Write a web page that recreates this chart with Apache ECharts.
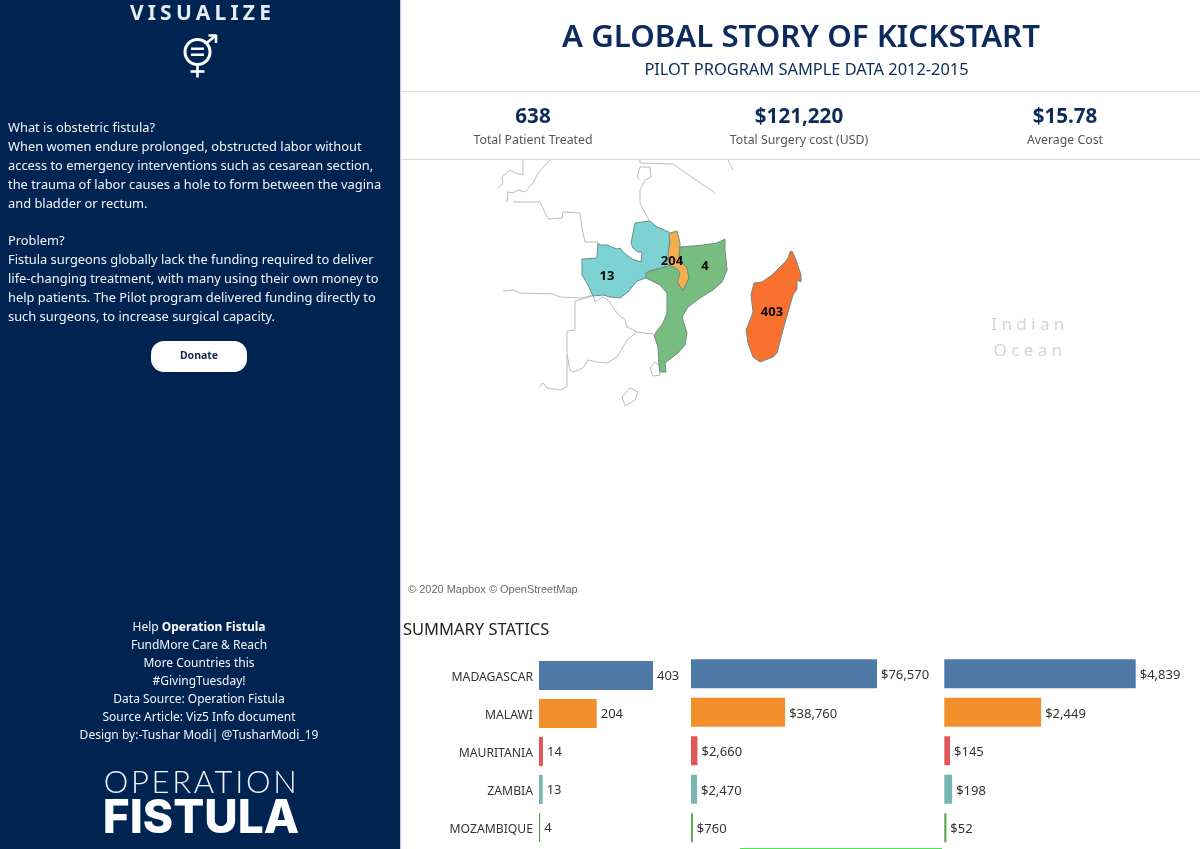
<!DOCTYPE html>
<html><head><meta charset="utf-8">
<script src="https://cdn.jsdelivr.net/npm/echarts@6/dist/echarts.min.js"></script>
<style>
html,body{margin:0;padding:0;background:#fff;overflow:hidden}
#wrap{position:relative;width:1200px;height:849px}
#chart{position:absolute;left:0;top:0;width:1200px;height:849px}
.sp{position:absolute;white-space:nowrap;transform:translate(-50%,-50%);line-height:1}
</style></head><body>
<div id="wrap"><div id="chart"></div>
<div class="sp" style="left:202.5px;top:12px;font:700 21px 'Noto Sans';letter-spacing:4.2px;color:#e4ebf2">VISUALIZE</div>
<div class="sp" style="left:1030px;top:322.5px;font:400 17px 'Noto Sans';letter-spacing:4.4px;color:#d4d4d4">Indian</div>
<div class="sp" style="left:1030px;top:348.5px;font:400 17px 'Noto Sans';letter-spacing:4.4px;color:#d4d4d4">Ocean</div>
<div class="sp" style="left:201.5px;top:781px;font:300 31px 'Lato';letter-spacing:2.7px;color:#f0f3f7">OPERATION</div>
</div>
<script>
// ---- chart values ----
const categories = ['MADAGASCAR','MALAWI','MAURITANIA','ZAMBIA','MOZAMBIQUE'];
const patients = [403,204,14,13,4];
const surgeryCost = [76570,38760,2660,2470,760];
const averageCost = [4839,2449,145,198,52];
const barColors = ['#4E79A7','#F28E2B','#E15759','#76B7B2','#59A14F'];
const kpiValues = ['638','$121,220','$15.78'];
const kpiLabels = ['Total Patient Treated','Total Surgery cost (USD)','Average Cost'];

// ---- map: patients by country, and outline geometry in map units ----
const mapCountries = ['Zambia','Malawi','Mozambique','Madagascar'];
const mapPatients = [13,204,4,403];
const mapColors = ['#7dd3d3','#f6ad4e','#78bd80','#f9712f'];
const mapLabelPoints = [[607,276],[672,261],[705,266],[772,312]];
const zambiaOutline = [[582,259],[597,258],[598,243],[600,245],[607,245],[617,249],[620,248],[623,252],[627,255],[632,259],[641,262],[642,252],[638,252],[633,248],[631,243],[633,233],[635,223],[650,221],[657,227],[669,232],[670,237],[669,247],[669,257],[665,267],[650,271],[646,273],[646,278],[637,281],[628,292],[620,298],[610,297],[603,295],[593,296],[588,285],[582,275]];
const malawiOutline = [[670,233],[677,231],[680,243],[679,260],[687,268],[689,278],[683,291],[677,282],[680,273],[677,269],[669,265],[668,253],[670,243],[669,235]];
const mozambiqueOutline = [[680,247],[693,246],[703,245],[717,243],[725,239],[725,250],[727,270],[722,282],[713,290],[700,298],[688,307],[682,317],[687,333],[685,345],[678,353],[665,363],[666,372],[660,372],[659,365],[658,347],[654,335],[663,323],[667,313],[667,293],[660,285],[646,278],[646,273],[650,271],[665,267],[669,265],[677,269],[680,273],[677,282],[683,291],[689,278],[687,268],[679,260]];
const madagascarOutline = [[792,251],[794,255],[797,263],[801,275],[801,282],[797,280],[797,289],[793,295],[788,312],[783,330],[777,353],[773,357],[760,362],[753,357],[748,343],[746,330],[750,320],[753,312],[751,295],[754,283],[762,282],[772,275],[780,267],[785,262],[788,258],[790,252]];
const neighbourBorders = [
 [[523,160],[523,175],[515,173],[510,170],[502,177],[503,183],[498,188]],
 [[550,160],[538,173],[533,183],[525,192],[518,190],[513,193],[508,192],[507,202]],
 [[513,202],[540,202],[548,219],[562,218],[563,212],[580,213],[582,228],[585,242],[598,242]],
 [[503,291],[513,290],[520,293],[553,294],[560,297],[582,298],[593,295]],
 [[593,296],[575,301],[575,330],[567,331],[567,387],[560,390],[547,388],[543,383],[539,387]],
 [[593,296],[595,302],[603,297],[608,300],[617,313],[625,320],[627,327],[637,332],[653,334]],
 [[637,332],[627,340],[617,357],[607,363],[597,362],[588,360],[583,368],[573,372],[570,370],[567,355]],
 [[622,397],[630,388],[638,392],[635,400],[625,406],[622,397]],
 [[650,368],[655,362],[659,365],[660,375],[653,376],[650,368]],
 [[640,160],[640,163],[673,164],[715,193]],
 [[637,177],[640,167],[650,167],[651,177],[645,180],[640,190],[640,203],[650,222]],
 [[640,180],[637,177]],
 [[728,160],[733,170]]
];
const flip = pts => pts.map(p => [p[0], -p[1]]);
const countryOutlines = [zambiaOutline, malawiOutline, mozambiqueOutline, madagascarOutline];
const geoJson = {type:'FeatureCollection',features:[
  {type:'Feature',properties:{name:'Neighbours'},geometry:{type:'MultiLineString',coordinates:neighbourBorders.map(flip)}},
  ...mapCountries.map((name,i)=>{
    const ring = flip(countryOutlines[i]); ring.push(ring[0]);
    return {type:'Feature',properties:{name,cp:[mapLabelPoints[i][0],-mapLabelPoints[i][1]]},geometry:{type:'Polygon',coordinates:[ring]}};
  })
]};
echarts.registerMap('kickstart', geoJson);

const FONT = 'Noto Sans', NAVY='#002451', INK='#0c2a5b';
const T = (x,y,text,o={}) => ({type:'text',x,y,silent:true,z:10,style:Object.assign({
  text,fontFamily:FONT,fontSize:13,fill:'#333',align:'left',verticalAlign:'middle'},o)});
const R = (x,y,w,h,fill,r) => ({type:'rect',silent:true,z:r===undefined?1:5,shape:{x,y,width:w,height:h,r:r||0},style:{fill}});
const W = (x1,y1,x2,y2,lw=2.6) => ({type:'line',silent:true,z:6,shape:{x1,y1,x2,y2},style:{stroke:'#fff',lineWidth:lw}});

const bodyLines = [
 ['What is obstetric fistula?',128],
 ['When women endure prolonged, obstructed labor without',147],
 ['access to emergency interventions such as cesarean section,',166],
 ['the trauma of labor causes a hole to form between the vagina',185],
 ['and bladder or rectum.',204],
 ['Problem?',241],
 ['Fistula surgeons globally lack the funding required to deliver',260],
 ['life-changing treatment, with many using their own money to',279],
 ['help patients. The Pilot program delivered funding directly to',298],
 ['such surgeons, to increase surgical capacity.',317]
];
const creditLines = [
 ['FundMore Care & Reach',646],['More Countries this',664],['#GivingTuesday!',682],
 ['Data Source: Operation Fistula',700],['Source Article: Viz5 Info document',718],
 ['Design by:-Tushar Modi| @TusharModi_19',736]
];
const kpiX = [533,799,1065];

const graphic = [
  R(0,0,400,849,NAVY),
  R(400,0,1.2,849,'#c3cde0'),
  R(401,91,799,1,'#d8d8d8'),
  R(401,159,799,1,'#d8d8d8'),
  R(740,848,202,1,'#4be84b'),
  // icon
  {type:'circle',silent:true,z:6,shape:{cx:197.5,cy:52,r:12.5},style:{fill:'transparent',stroke:'#fff',lineWidth:3}},
  R(191,47.5,13,2.4,'#fff',0.1), R(191,53.5,13,2.4,'#fff',0.1),
  W(197.5,65,197.5,77.5), W(190.5,71.5,204.5,71.5),
  W(206.5,43,216,35.5), W(208.5,35.5,216.5,35.5), W(216,35,216,43),
  // donate
  R(151,341,96,31,'#fff',13),
  T(199,356.5,'Donate',{align:'center',fontSize:10.5,fontWeight:700,fill:'#14284f'}),
  ...bodyLines.map(l=>T(8,l[1],l[0],{fill:'#f2f5f9',fontSize:12.86})),
  T(199,628,'{a|Help }{b|Operation Fistula}',{align:'center',rich:{
    a:{fontFamily:FONT,fontSize:12,fill:'#f2f5f9'},b:{fontFamily:FONT,fontSize:12,fontWeight:700,fill:'#fff'}}}),
  ...creditLines.map(l=>T(199,l[1],l[0],{align:'center',fill:'#f2f5f9',fontSize:12})),
  T(201,819,'FISTULA',{align:'center',fontFamily:'Inter',fontWeight:800,fontSize:46,fill:'#fff'}),
  // header
  T(801,38,'A GLOBAL STORY OF KICKSTART',{align:'center',fontSize:31.2,fontWeight:600,fill:INK}),
  T(806.5,70,'PILOT PROGRAM SAMPLE DATA 2012-2015',{align:'center',fontSize:16.4,fill:INK}),
  ...kpiValues.map((v,i)=>T(kpiX[i],117,v,{align:'center',fontSize:20.6,fontWeight:700,fill:INK})),
  ...kpiLabels.map((v,i)=>T(kpiX[i],140,v,{align:'center',fontSize:12.3,fill:'#555'})),
  T(408,590,'© 2020 Mapbox © OpenStreetMap',{fontFamily:'Liberation Sans',fontSize:11,fill:'#6a6a6a'}),
  T(403,630,'SUMMARY STATICS',{fontSize:16.5,fill:'#222'})
];

const layouts = [
  {left:539,top:656.5,width:140,height:190,max:495},
  {left:691,top:654.5,width:230,height:192.5,max:94700},
  {left:944.3,top:654.5,width:230,height:192.5,max:5815}
];
const seriesValues = [patients,surgeryCost,averageCost];
const fmt = [v=>String(v), v=>'$'+v.toLocaleString('en-US'), v=>'$'+v.toLocaleString('en-US')];

const option = {
  animation:false,
  backgroundColor:'#fff',
  graphic:{elements:graphic},
  grid:layouts.map(l=>({left:l.left,top:l.top,width:l.width,height:l.height,containLabel:false})),
  xAxis:layouts.map((l,i)=>({type:'value',gridIndex:i,min:0,max:l.max,show:false})),
  yAxis:layouts.map((l,i)=>({type:'category',gridIndex:i,inverse:true,data:categories,
    axisLine:{show:false},axisTick:{show:false},
    axisLabel:{show:i===0,margin:6,formatter:'{c|{value}}',
      rich:{c:{padding:[4,0,0,0],fontFamily:FONT,fontSize:12.2,color:'#333'}}}})),
  series:[
    {type:'map',map:'kickstart',silent:true,z:3,aspectScale:1,roam:false,
     left:400,top:160,width:800,height:440,
     boundingCoords:[[400,-160],[1200,-600]],
     itemStyle:{areaColor:'transparent',borderColor:'#bcbcbc',borderWidth:1},
     emphasis:{disabled:true},select:{disabled:true},
     label:{show:false},
     data:mapCountries.map((name,i)=>({name,value:mapPatients[i],
       itemStyle:{areaColor:mapColors[i],borderColor:'#6f8c86',borderWidth:1},
       label:{show:true,formatter:'{c}',fontFamily:FONT,fontWeight:700,fontSize:13,color:'#0a0a0a'}}))},
    ...seriesValues.map((vals,i)=>({type:'bar',xAxisIndex:i,yAxisIndex:i,barWidth:29,silent:true,
      data:vals.map((v,k)=>({value:v,itemStyle:{color:barColors[k]}})),
      label:{show:true,position:'right',distance:4,offset:[0,i===0?1:2],fontFamily:FONT,fontSize:13,color:'#333',
        formatter:p=>fmt[i](p.value)}}))
  ]
};
echarts.init(document.getElementById('chart'),null,{renderer:'canvas'}).setOption(option);
</script></body></html>
